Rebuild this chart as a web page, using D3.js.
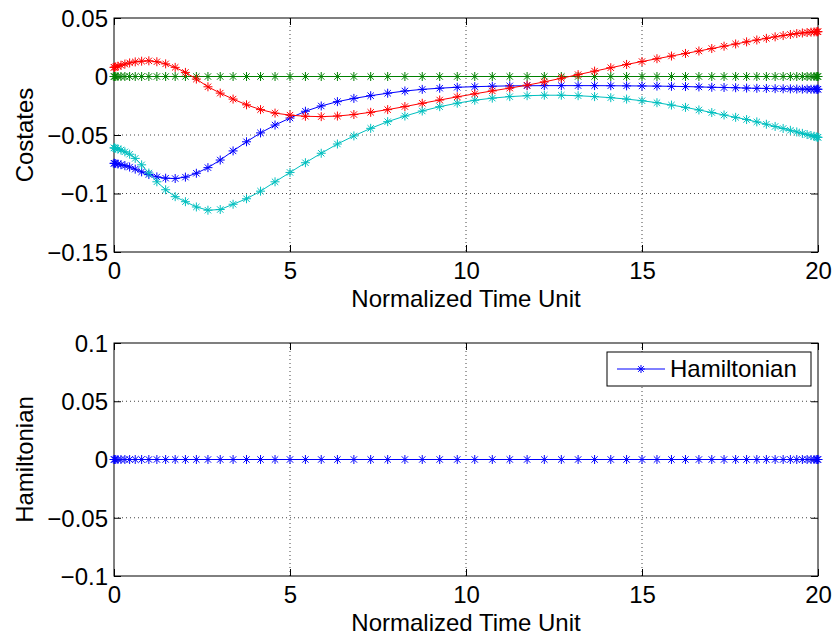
<!DOCTYPE html>
<html>
<head>
<meta charset="utf-8">
<script src="https://cdn.jsdelivr.net/npm/d3@7"></script>
<style>
    body { margin: 0; background: #fff; }
    svg text { font-family: "Liberation Sans", Arial, Helvetica, sans-serif; font-size: 24px; fill: #000; }
</style>
</head>
<body>
<div id="chartContainer"></div>
<script>
'use strict';

// collocation times (clustered at both ends)
const time = [
    0, 0.012, 0.050, 0.112, 0.198, 0.309, 0.444, 0.603, 0.785, 0.990,
    1.218, 1.467, 1.738, 2.029, 2.340, 2.669, 3.018, 3.383, 3.765, 4.163,
    4.575, 5.000, 5.438, 5.887, 6.347, 6.815, 7.292, 7.775, 8.264, 8.757,
    9.253, 9.751, 10.249, 10.747, 11.243, 11.736, 12.225, 12.708, 13.185, 13.653,
    14.113, 14.562, 15.000, 15.425, 15.837, 16.235, 16.617, 16.982, 17.331, 17.660,
    17.971, 18.262, 18.533, 18.782, 19.010, 19.215, 19.397, 19.556, 19.691, 19.802,
    19.888, 19.950, 19.988, 20
];

const costateBlue = [
    -0.0742, -0.0742, -0.0744, -0.0748, -0.0754, -0.0762, -0.0774, -0.0792, -0.0815, -0.0838,
    -0.0858, -0.0869, -0.0872, -0.0860, -0.0827, -0.0779, -0.0714, -0.0636, -0.0558, -0.0482,
    -0.0415, -0.0355, -0.0297, -0.0252, -0.0215, -0.0187, -0.0164, -0.0143, -0.0124, -0.0110,
    -0.0100, -0.0092, -0.0087, -0.0083, -0.0080, -0.0079, -0.0078, -0.0078, -0.0078, -0.0078,
    -0.0079, -0.0080, -0.0081, -0.0082, -0.0084, -0.0086, -0.0089, -0.0092, -0.0094, -0.0096,
    -0.0099, -0.0101, -0.0102, -0.0104, -0.0105, -0.0106, -0.0107, -0.0108, -0.0108, -0.0109,
    -0.0109, -0.0109, -0.0109, -0.0109
];

const costateGreen = [
    0, 0, 0, 0, 0, 0, 0, 0, 0, 0,
    0, 0, 0, 0, 0, 0, 0, 0, 0, 0,
    0, 0, 0, 0, 0, 0, 0, 0, 0, 0,
    0, 0, 0, 0, 0, 0, 0, 0, 0, 0,
    0, 0, 0, 0, 0, 0, 0, 0, 0, 0,
    0, 0, 0, 0, 0, 0, 0, 0, 0, 0,
    0, 0, 0, 0
];

const costateRed = [
    0.0078, 0.0079, 0.0082, 0.0088, 0.0096, 0.0106, 0.0116, 0.0125, 0.0131, 0.0134,
    0.0126, 0.0108, 0.0078, 0.0035, -0.0022, -0.0088, -0.0142, -0.0193, -0.0242, -0.0283,
    -0.0313, -0.0330, -0.0340, -0.0343, -0.0338, -0.0325, -0.0306, -0.0283, -0.0257, -0.0229,
    -0.0201, -0.0174, -0.0148, -0.0123, -0.0099, -0.0074, -0.0046, -0.0015, 0.0016, 0.0046,
    0.0075, 0.0103, 0.0128, 0.0152, 0.0175, 0.0197, 0.0218, 0.0239, 0.0259, 0.0278,
    0.0296, 0.0312, 0.0326, 0.0339, 0.0350, 0.0359, 0.0367, 0.0372, 0.0376, 0.0379,
    0.0381, 0.0382, 0.0383, 0.0383
];

const costateCyan = [
    -0.0610, -0.0611, -0.0614, -0.0620, -0.0628, -0.0644, -0.0664, -0.0700, -0.0755, -0.0825,
    -0.0900, -0.0968, -0.1027, -0.1070, -0.1115, -0.1143, -0.1137, -0.1092, -0.1045, -0.0980,
    -0.0900, -0.0820, -0.0737, -0.0656, -0.0577, -0.0508, -0.0443, -0.0386, -0.0338, -0.0295,
    -0.0258, -0.0228, -0.0203, -0.0185, -0.0172, -0.0164, -0.0160, -0.0160, -0.0164, -0.0172,
    -0.0181, -0.0193, -0.0207, -0.0224, -0.0244, -0.0264, -0.0286, -0.0308, -0.0329, -0.0349,
    -0.0368, -0.0388, -0.0408, -0.0427, -0.0444, -0.0460, -0.0474, -0.0486, -0.0496, -0.0505,
    -0.0511, -0.0516, -0.0519, -0.0520
];

const hamiltonian = [
    0, 0, 0, 0, 0, 0, 0, 0, 0, 0,
    0, 0, 0, 0, 0, 0, 0, 0, 0, 0,
    0, 0, 0, 0, 0, 0, 0, 0, 0, 0,
    0, 0, 0, 0, 0, 0, 0, 0, 0, 0,
    0, 0, 0, 0, 0, 0, 0, 0, 0, 0,
    0, 0, 0, 0, 0, 0, 0, 0, 0, 0,
    0, 0, 0, 0
];

const timeTicks = [0, 5, 10, 15, 20];
const costateTicks = [0.05, 0, -0.05, -0.1, -0.15];
const hamiltonianTicks = [0.1, 0.05, 0, -0.05, -0.1];

const xLabel = "Normalized Time Unit";
const legendLabel = "Hamiltonian";

const colors = {
    blue: "#0000FF",
    green: "#008000",
    red: "#FF0000",
    cyan: "#00BFBF"
};

const width = 833, height = 637;
const plotLeft = 114, plotRight = 818;
const tickLen = 7;

// matlab style '*' marker
const asterisk = (r) => {
    const a = r * 0.7071;
    return "M" + (-r) + ",0H" + r + "M0," + (-r) + "V" + r +
        "M" + (-a) + "," + (-a) + "L" + a + "," + a +
        "M" + (-a) + "," + a + "L" + a + "," + (-a);
}

const fmt = d3.format("~g");

const createSVG = () => {
    return d3.select("#chartContainer")
        .append("svg")
        .attr("width", width)
        .attr("height", height);
}

// Draws grid, box, ticks and labels for one subplot
const drawAxes = (svg, x, y, yTicks, yLabel) => {
    const [bottom, top] = y.range();
    const g = svg.append("g");

    // dotted grid
    g.append("g")
        .selectAll("line.vgrid")
        .data(timeTicks.slice(1, -1))
        .enter()
        .append("line")
        .attr("x1", d => x(d)).attr("x2", d => x(d))
        .attr("y1", top).attr("y2", bottom)
        .attr("stroke", "#444")
        .attr("stroke-dasharray", "1,3");

    g.append("g")
        .selectAll("line.hgrid")
        .data(yTicks.slice(1, -1))
        .enter()
        .append("line")
        .attr("x1", plotLeft).attr("x2", plotRight)
        .attr("y1", d => y(d)).attr("y2", d => y(d))
        .attr("stroke", "#444")
        .attr("stroke-dasharray", "1,3");

    const xb = g.append("g")
        .attr("transform", "translate(0," + bottom + ")")
        .call(d3.axisBottom(x).tickValues(timeTicks).tickFormat(fmt)
            .tickSize(-tickLen).tickPadding(10));
    const xt = g.append("g")
        .attr("transform", "translate(0," + top + ")")
        .call(d3.axisTop(x).tickValues(timeTicks).tickFormat("").tickSize(-tickLen));
    const yl = g.append("g")
        .attr("transform", "translate(" + plotLeft + ",0)")
        .call(d3.axisLeft(y).tickValues(yTicks).tickFormat(fmt)
            .tickSize(-tickLen).tickPadding(6));
    const yr = g.append("g")
        .attr("transform", "translate(" + plotRight + ",0)")
        .call(d3.axisRight(y).tickValues(yTicks).tickFormat("").tickSize(-tickLen));

    [xb, xt, yl, yr].forEach(a => {
        a.attr("font-size", null).attr("font-family", null);
        a.select(".domain").remove();
        a.selectAll("line").attr("stroke", "#000");
    });
    yl.selectAll("text").attr("dy", "0.35em");

    g.append("rect")
        .attr("x", plotLeft).attr("y", top)
        .attr("width", plotRight - plotLeft).attr("height", bottom - top)
        .attr("fill", "none").attr("stroke", "#000");

    g.append("text")
        .attr("x", (plotLeft + plotRight) / 2)
        .attr("y", bottom + 55)
        .style("text-anchor", "middle")
        .text(xLabel);

    g.append("text")
        .attr("transform", "translate(33," + ((top + bottom) / 2) + ") rotate(-90)")
        .style("text-anchor", "middle")
        .text(yLabel);
}

// Line plus asterisk markers for a series
const plotSeries = (svg, x, y, values, color) => {
    const pts = time.map((t, i) => [t, values[i]]);
    const line = d3.line().x(d => x(d[0])).y(d => y(d[1]));

    svg.append("path")
        .datum(pts)
        .attr("d", line)
        .attr("fill", "none")
        .attr("stroke", color)
        .attr("stroke-width", 1);

    svg.append("g")
        .selectAll("path")
        .data(pts)
        .enter()
        .append("path")
        .attr("transform", d => "translate(" + x(d[0]) + "," + y(d[1]) + ")")
        .attr("d", asterisk(4.5))
        .attr("fill", "none")
        .attr("stroke", color)
        .attr("stroke-width", 1);
}

const plotData = () => {
    const svg = createSVG();

    const x = d3.scaleLinear().domain([0, 20]).range([plotLeft, plotRight]);

    // top subplot: costates
    const yCost = d3.scaleLinear().domain([-0.15, 0.05]).range([252, 18]);
    drawAxes(svg, x, yCost, costateTicks, "Costates");
    plotSeries(svg, x, yCost, costateBlue, colors.blue);
    plotSeries(svg, x, yCost, costateGreen, colors.green);
    plotSeries(svg, x, yCost, costateRed, colors.red);
    plotSeries(svg, x, yCost, costateCyan, colors.cyan);

    // bottom subplot: hamiltonian
    const yHam = d3.scaleLinear().domain([-0.1, 0.1]).range([576, 343]);
    drawAxes(svg, x, yHam, hamiltonianTicks, "Hamiltonian");
    plotSeries(svg, x, yHam, hamiltonian, colors.blue);

    // legend
    const lg = svg.append("g").attr("transform", "translate(607,352)");
    lg.append("rect")
        .attr("width", 204).attr("height", 34)
        .attr("fill", "#fff").attr("stroke", "#000");
    lg.append("line")
        .attr("x1", 10).attr("x2", 58).attr("y1", 17).attr("y2", 17)
        .attr("stroke", colors.blue);
    lg.append("path")
        .attr("transform", "translate(34,17)")
        .attr("d", asterisk(4))
        .attr("fill", "none")
        .attr("stroke", colors.blue);
    lg.append("text")
        .attr("x", 63).attr("y", 17).attr("dy", "0.35em")
        .text(legendLabel);
}

plotData();
</script>
</body>
</html>
